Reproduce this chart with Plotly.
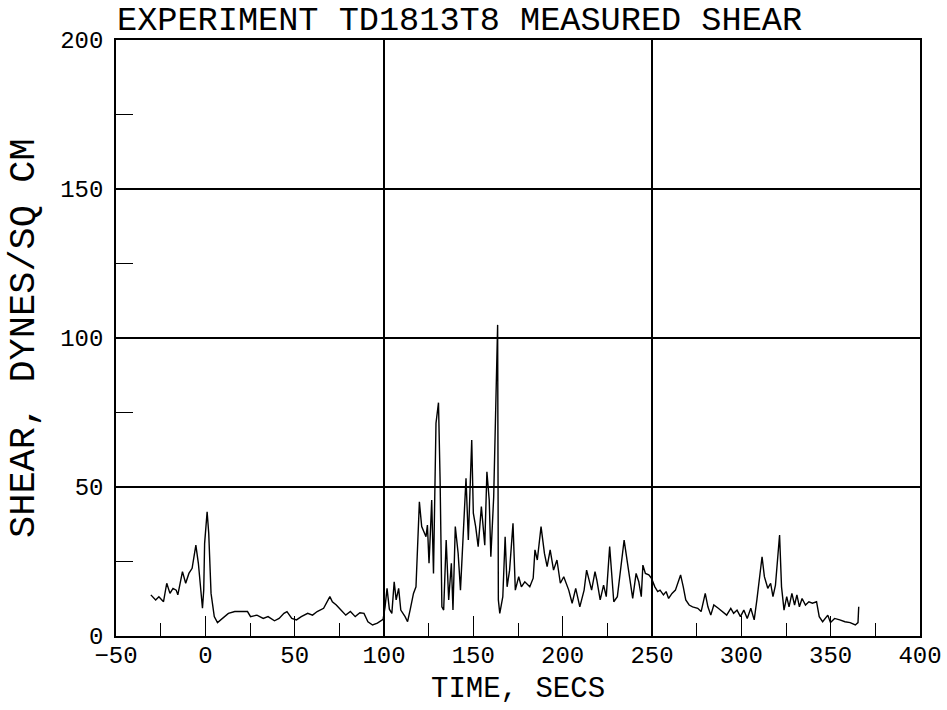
import plotly.graph_objects as go

time_s = [-30.5, -27.8, -26.0, -23.4, -21.6, -19.8, -18.1, -16.3, -15.4, -12.8, -11.0, -9.2, -7.4, -5.3, -3.9,
          -2.7, -1.6, -0.9, -0.4, 1.0, 1.9, 3.2, 5.0, 6.8, 9.4, 12.9, 16.5, 20.0, 23.6, 25.3, 28.9, 32.4,
          35.1, 38.7, 41.3, 44.0, 45.7, 48.4, 51.0, 53.7, 57.3, 60.0, 62.6, 66.2, 68.3, 69.7, 71.1, 73.3,
          75.9, 78.6, 81.2, 83.9, 86.5, 88.8, 91.0, 93.6, 96.3, 99.5, 100.6, 101.7, 103.0, 104.4, 105.7,
          106.8, 108.2, 109.4, 111.8, 113.2, 114.6, 116.5, 117.9, 119.8, 121.1, 122.4, 123.5, 124.3, 125.2,
          126.1, 126.7, 127.7, 129.1, 130.5, 131.4, 132.4, 133.4, 134.8, 136.2, 137.7, 138.6, 139.9, 141.5,
          142.8, 144.3, 145.9, 147.2, 149.1, 150.0, 151.3, 152.7, 154.5, 156.4, 157.6, 158.9, 159.8, 161.4,
          162.7, 163.6, 164.0, 164.8, 166.5, 167.8, 168.9, 170.3, 172.2, 173.5, 175.4, 176.9, 178.8, 181.6,
          183.5, 184.5, 185.8, 187.9, 189.8, 191.3, 193.0, 194.9, 196.8, 198.7, 200.6, 203.4, 205.3, 207.3,
          209.6, 212.0, 213.4, 214.9, 216.2, 218.1, 219.1, 221.0, 222.9, 224.4, 226.3, 227.7, 228.6, 230.6,
          232.5, 234.4, 236.3, 238.2, 239.2, 241.1, 242.6, 244.0, 244.9, 246.3, 248.2, 249.7, 251.6, 253.2,
          254.5, 256.4, 257.9, 259.3, 261.2, 263.1, 264.7, 266.0, 267.5, 268.9, 270.8, 272.7, 275.6, 277.5,
          279.8, 281.3, 282.9, 284.6, 287.1, 289.5, 291.8, 294.1, 295.7, 297.6, 299.5, 301.4, 303.3, 305.3,
          307.2, 308.7, 310.1, 311.6, 312.9, 314.8, 316.4, 317.7, 319.1, 320.2, 321.4, 322.5, 323.9, 325.4,
          326.7, 328.3, 329.8, 331.1, 332.5, 334.0, 335.9, 337.8, 339.8, 342.1, 343.6, 345.5, 347.0, 348.4,
          349.9, 352.2, 355.1, 358.0, 360.9, 363.8, 365.3, 365.7]

shear = [13.8, 12.1, 13.2, 11.5, 17.7, 14.3, 16.0, 15.4, 13.8, 21.6, 17.7, 21.0, 22.7, 30.5, 24.4,
         16.5, 9.3, 15.4, 31.1, 41.7, 34.5, 14.3, 6.5, 4.5, 5.9, 7.6, 8.2, 8.3, 8.2, 6.5, 7.0, 5.9,
         6.5, 5.1, 5.9, 7.6, 8.2, 5.9, 5.4, 6.5, 7.6, 7.0, 8.2, 9.3, 11.5, 13.2, 11.5, 10.4,
         8.7, 7.0, 8.2, 6.5, 7.8, 7.6, 4.8, 3.7, 4.3, 5.6, 9.8, 16.0, 9.0, 7.6, 18.2,
         12.1, 16.0, 8.7, 6.5, 4.8, 8.7, 14.3, 16.5, 45.0, 36.7, 34.5, 33.3, 37.2, 24.4,
         36.7, 45.6, 21.0, 71.4, 78.3, 52.3, 9.8, 8.7, 32.2, 12.1, 24.4, 8.7, 36.7, 27.7,
         15.4, 33.3, 52.9, 32.2, 65.8, 41.2, 36.7, 30.0, 43.4, 30.5, 55.1, 45.6, 26.6, 46.7,
         81.4, 104.4, 12.1, 7.6, 13.2, 33.3, 16.5, 22.1, 37.8, 15.4, 19.9, 16.5, 18.2, 16.5,
         19.4, 28.9, 25.5, 36.7, 27.7, 23.3, 28.9, 22.1, 25.5, 17.7, 19.9, 15.4, 11.0, 16.0,
         9.8, 15.4, 22.1, 18.8, 15.4, 21.6, 18.8, 12.1, 17.1, 13.2, 30.0, 18.8, 11.5, 13.2,
         23.3, 32.2, 24.4, 17.1, 12.6, 21.0, 18.2, 13.2, 23.8, 21.0, 20.5, 19.4, 16.5, 14.9,
         15.4, 13.8, 14.9, 12.6, 14.3, 15.4, 18.2, 20.5, 16.5, 12.1, 10.4, 9.8, 9.3, 8.2,
         14.3, 9.8, 7.0, 10.4, 9.3, 8.2, 7.0, 9.3, 7.6, 8.7, 6.5, 8.7, 5.9, 9.3,
         5.4, 12.1, 18.8, 26.6, 19.9, 16.0, 17.7, 13.2, 17.1, 25.5, 33.9, 16.5, 8.7, 13.2,
         9.8, 14.3, 10.4, 13.8, 9.8, 12.6, 10.4, 11.5, 11.0, 11.5, 6.5, 4.8, 5.9, 7.0,
         4.5, 5.9, 5.4, 4.8, 4.5, 3.7, 4.5, 9.8]

x_range = [-50, 400]
y_range = [0, 200]
title_text = "EXPERIMENT TD1813T8 MEASURED SHEAR"
x_title = "TIME, SECS"
y_title = "SHEAR, DYNES/SQ CM"

FONT = "Liberation Mono, DejaVu Sans Mono, monospace"

fig = go.Figure()
fig.add_trace(go.Scatter(x=time_s, y=shear, mode="lines",
                         line=dict(color="black", width=1.4),
                         showlegend=False, hoverinfo="skip"))
# helper trace for the coarse vertical grid (every 150 s)
fig.add_trace(go.Scatter(x=time_s, y=shear, mode="none", xaxis="x2",
                         showlegend=False, hoverinfo="skip"))

fig.update_layout(
    width=947, height=710,
    margin=dict(l=116, r=27, t=40, b=74, autoexpand=False),
    paper_bgcolor="white", plot_bgcolor="white",
    font=dict(family=FONT, color="black"),
    xaxis=dict(range=x_range, tick0=-50, dtick=50, ticks="inside", ticklen=20,
               tickwidth=1.3, tickcolor="black", showgrid=False, zeroline=False,
               showline=True, linecolor="black", linewidth=1.5, mirror=True,
               automargin=False, ticklabelstandoff=-4,
               tickfont=dict(family=FONT, size=24, color="black"),
               minor=dict(dtick=25, ticks="inside", ticklen=13, tickwidth=1.3,
                          tickcolor="black", showgrid=False)),
    xaxis2=dict(range=x_range, overlaying="x", tick0=-50, dtick=150,
                showgrid=True, gridcolor="black", gridwidth=1.5, automargin=False,
                showticklabels=False, ticks="", zeroline=False, showline=False),
    yaxis=dict(range=y_range, tick0=0, dtick=50, ticks="inside", ticklen=17,
               tickwidth=1.3, tickcolor="black", showgrid=True, gridcolor="black",
               gridwidth=1.5, zeroline=False, showline=True, linecolor="black",
               linewidth=1.5, mirror=True, automargin=False, ticklabelstandoff=6,
               tickfont=dict(family=FONT, size=24, color="black"),
               minor=dict(dtick=25, ticks="inside", ticklen=17, tickwidth=1.3,
                          tickcolor="black", showgrid=False)),
    annotations=[
        dict(text=title_text, xref="paper", yref="paper", x=-0.001, y=1.032,
             xanchor="left", yanchor="middle", showarrow=False,
             font=dict(family=FONT, size=33.6, color="black")),
        dict(text=x_title, xref="paper", yref="paper", x=0.5, y=-0.0906,
             xanchor="center", yanchor="middle", showarrow=False,
             font=dict(family=FONT, size=29, color="black")),
        dict(text=y_title, xref="paper", yref="paper", x=-0.1144, y=0.5,
             xanchor="center", yanchor="middle", showarrow=False, textangle=-90,
             font=dict(family=FONT, size=37, color="black")),
    ],
)

fig.write_html("out.html", config={"displayModeBar": False},
               post_script="document.body.style.margin='0px';document.body.style.overflow='hidden';")
